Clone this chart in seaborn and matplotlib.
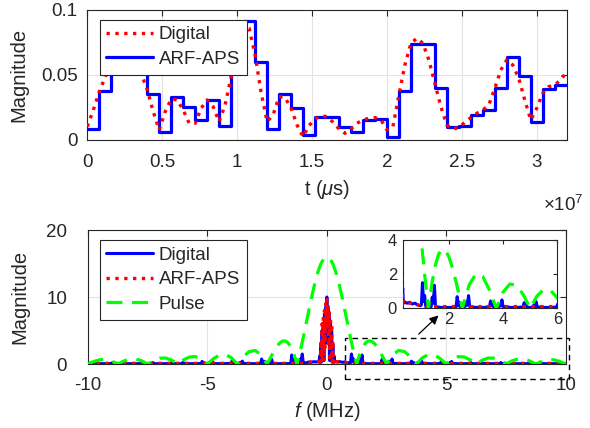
import numpy as np
import matplotlib
matplotlib.use("Agg")
import matplotlib.pyplot as plt
import seaborn as sns
from matplotlib.patches import Rectangle, FancyArrowPatch
from matplotlib.lines import Line2D

# ---------------- data: time domain ----------------
t_max = 3.2e7
digital_t = np.linspace(0, 3.2e7, 81)
digital_mag = [0.0103, 0.023, 0.0372, 0.0487, 0.057, 0.062, 0.065, 0.064, 0.060, 0.0513,
               0.0385, 0.0218, 0.0077, 0.0218, 0.0315, 0.0308, 0.023, 0.0128, 0.0128, 0.0244,
               0.0308, 0.0256, 0.0141, 0.0269, 0.0487, 0.0731, 0.0885, 0.086, 0.0654, 0.0367,
               0.0141, 0.0192, 0.0333, 0.0326, 0.0244, 0.0115, 0.0026, 0.011, 0.0162, 0.0185,
               0.018, 0.0136, 0.0085, 0.0051, 0.0085, 0.0128, 0.0154, 0.0167, 0.0172, 0.0154,
               0.0077, 0.0103, 0.0346, 0.0577, 0.0744, 0.0782, 0.0744, 0.0615, 0.0436, 0.0256,
               0.0115, 0.0085, 0.0095, 0.0136, 0.0172, 0.0205, 0.023, 0.0269, 0.0397, 0.0538,
               0.0615, 0.0577, 0.0474, 0.0308, 0.0154, 0.0244, 0.0359, 0.041, 0.0423, 0.0462,
               0.0525]
arf_steps = [0.0085, 0.0377, 0.057, 0.064, 0.061, 0.0351, 0.0064, 0.0333, 0.0256, 0.0154,
             0.0308, 0.011, 0.0641, 0.0915, 0.0597, 0.0085, 0.035, 0.0249, 0.0038, 0.0175,
             0.0175, 0.0097, 0.0064, 0.0154, 0.0162, 0.0021, 0.0377, 0.0738, 0.0736, 0.0397,
             0.0098, 0.011, 0.0192, 0.0228, 0.0397, 0.0636, 0.049, 0.0136, 0.039, 0.0423]
arf_t = np.linspace(0, 3.2e7, 41)

top_xticks = [0, 0.5e7, 1e7, 1.5e7, 2e7, 2.5e7, 3e7]
top_xticklabels = ["0", "0.5", "1", "1.5", "2", "2.5", "3"]
top_yticks = [0, 0.05, 0.1]
top_yticklabels = ["0", "0.05", "0.1"]

# ---------------- data: spectrum (positive half, magnitude is symmetric) ----------------
spec_f_pos = [0.0, 0.025, 0.05, 0.075, 0.1, 0.125, 0.15, 0.175, 0.2, 0.225, 0.25, 0.275, 0.3, 0.325, 0.35,
              0.45, 0.55, 0.65, 0.75, 0.85, 0.95,
              0.99, 1.03, 1.07, 1.11, 1.15, 1.19, 1.31, 1.35, 1.39, 1.43, 1.47, 1.51,
              1.7, 2.0, 2.2,
              2.27, 2.31, 2.35, 2.39, 2.43, 2.57, 2.61, 2.65, 2.69, 2.73, 2.77,
              3.0, 3.3,
              3.50, 3.54, 3.58, 3.62, 3.66, 3.84, 3.88, 3.92, 3.96, 4.00,
              4.3, 4.55,
              4.74, 4.78, 4.82, 4.86, 4.90, 5.10, 5.14, 5.18, 5.22, 5.26,
              5.5, 5.8,
              5.98, 6.02, 6.06, 6.44, 6.48, 6.52,
              6.8, 7.05,
              7.24, 7.28, 7.32, 7.68, 7.72, 7.76,
              8.0, 8.3,
              8.49, 8.53, 8.57, 8.93, 8.97, 9.01,
              9.3, 9.5,
              9.74, 9.78, 9.82, 10.0]
digital_spec_pos = [10.0, 6.0, 8.5, 3.0, 7.5, 0.5, 6.0, 1.0, 5.0, 0.3, 3.0, 0.3, 1.2, 0.3, 0.4,
                    0.3, 0.35, 0.25, 0.3, 0.2, 0.15,
                    0.2, 1.5, 0.4, 0.75, 0.1, 0.05, 0.05, 0.1, 0.65, 0.3, 1.35, 0.1,
                    0.05, 0.05, 0.05,
                    0.1, 0.68, 0.15, 0.35, 0.05, 0.05, 0.4, 0.15, 0.3, 0.74, 0.1,
                    0.05, 0.05,
                    0.1, 0.43, 0.15, 0.25, 0.05, 0.05, 0.25, 0.15, 0.49, 0.1,
                    0.05, 0.05,
                    0.08, 0.33, 0.1, 0.2, 0.05, 0.05, 0.2, 0.1, 0.39, 0.08,
                    0.05, 0.05,
                    0.08, 0.25, 0.05, 0.05, 0.3, 0.08,
                    0.05, 0.05,
                    0.05, 0.22, 0.05, 0.05, 0.25, 0.05,
                    0.05, 0.05,
                    0.05, 0.2, 0.05, 0.05, 0.22, 0.05,
                    0.05, 0.05,
                    0.05, 0.18, 0.05, 0.05]
arf_spec_pos = [9.6, 5.5, 9.0, 2.5, 8.0, 0.4, 7.0, 0.5, 6.0, 0.3, 3.5, 0.2, 0.8, 0.3, 0.35,
                0.35, 0.3, 0.3, 0.25, 0.2, 0.15,
                0.12, 0.1, 0.12, 0.1, 0.1, 0.1, 0.1, 0.1, 0.1, 0.1, 0.1, 0.1,
                0.1, 0.1, 0.1,
                0.1, 0.1, 0.1, 0.1, 0.1, 0.1, 0.1, 0.1, 0.1, 0.1, 0.1,
                0.1, 0.1,
                0.1, 0.1, 0.1, 0.1, 0.1, 0.1, 0.1, 0.1, 0.1, 0.1,
                0.1, 0.1,
                0.1, 0.1, 0.1, 0.1, 0.1, 0.1, 0.1, 0.1, 0.1, 0.1,
                0.1, 0.1,
                0.1, 0.1, 0.1, 0.1, 0.1, 0.1,
                0.1, 0.1,
                0.1, 0.1, 0.1, 0.1, 0.1, 0.1,
                0.1, 0.1,
                0.1, 0.1, 0.1, 0.1, 0.1, 0.1,
                0.1, 0.1,
                0.1, 0.1, 0.1, 0.1]
pulse_f_pos = [0, 0.125, 0.25, 0.375, 0.5, 0.625, 0.75, 0.875, 1.0, 1.125, 1.25, 1.375, 1.5, 1.625,
               1.75, 1.875, 2.0, 2.125, 2.25, 2.375, 2.5, 2.75, 3.0, 3.25, 3.5, 3.75, 4.0, 4.25,
               4.5, 4.75, 5.0, 5.25, 5.5, 5.75, 6.0, 6.25, 6.5, 6.75, 7.0, 7.25, 7.5, 7.75, 8.0,
               8.25, 8.5, 8.75, 9.0, 9.25, 9.5, 9.75, 10.0]
pulse_pos = [16.0, 15.74, 14.97, 13.73, 12.11, 10.19, 8.07, 5.89, 3.74, 1.75, 0.0, 1.43, 2.49, 3.17,
             3.46, 3.40, 3.03, 2.42, 1.66, 0.83, 0.0, 1.36, 2.02, 1.86, 1.07, 0.0, 0.94, 1.42,
             1.35, 0.79, 0.0, 0.71, 1.10, 1.05, 0.62, 0.0, 0.58, 0.90, 0.87, 0.52, 0.0, 0.48,
             0.76, 0.73, 0.44, 0.0, 0.42, 0.65, 0.64, 0.38, 0.0]

bot_xticks = [-10, -5, 0, 5, 10]
bot_xticklabels = ["-10", "-5", "0", "5", "10"]
bot_yticks = [0, 10, 20]
inset_xticks = [2, 4, 6]
inset_yticks = [0, 2, 4]


def mirror(f, v):
    f = np.asarray(f, float)
    v = np.asarray(v, float)
    return np.concatenate([-f[::-1], f[1:]]), np.concatenate([v[::-1], v[1:]])


spec_f, digital_spec = mirror(spec_f_pos, digital_spec_pos)
_, arf_spec = mirror(spec_f_pos, arf_spec_pos)
pulse_f, pulse_spec = mirror(pulse_f_pos, pulse_pos)

# ---------------- style ----------------
sns.set_style("white")
plt.rcParams["font.family"] = ["Liberation Sans", "DejaVu Sans"]
plt.rcParams["mathtext.fontset"] = "custom"
plt.rcParams["mathtext.rm"] = "Liberation Sans"
plt.rcParams["mathtext.it"] = "Liberation Sans:italic"

AX_COL = "#262626"
GRID_COL = "#e3e3e3"
BLUE = "#0000ff"
RED = "#ff0000"
GREEN = "#00ff00"
FS = 13.5
LFS = 14.5
DASH = (0, (5, 3))


def style_axes(ax, grid=True, xpad=10, ypad=6):
    for s in ax.spines.values():
        s.set_color(AX_COL)
        s.set_linewidth(0.8)
    ax.tick_params(direction="in", top=True, right=True, length=4, width=0.8,
                   colors=AX_COL, labelsize=FS)
    ax.tick_params(axis="x", pad=xpad)
    ax.tick_params(axis="y", pad=ypad)
    if grid:
        ax.grid(True, color=GRID_COL, lw=0.8)
    ax.set_axisbelow(True)


fig = plt.figure(figsize=(5.9, 4.28), dpi=100)

# ---------------- top axes ----------------
ax1 = fig.add_axes([0.148, 0.673, 0.8125, 0.3037])
arf_plot_y = list(arf_steps) + [arf_steps[-1]]
sns.lineplot(x=arf_t, y=arf_plot_y, ax=ax1, color=BLUE, lw=2.3, drawstyle="steps-post",
             estimator=None, sort=False, zorder=3)
sns.lineplot(x=digital_t, y=digital_mag, ax=ax1, color=RED, lw=2.4, linestyle=":",
             estimator=None, sort=False, zorder=4)
ax1.set_xlim(0, t_max)
ax1.set_ylim(0, 0.1)
ax1.set_xticks(top_xticks)
ax1.set_xticklabels(top_xticklabels)
ax1.set_yticks(top_yticks)
ax1.set_yticklabels(top_yticklabels)
style_axes(ax1, xpad=10, ypad=7)
ax1.set_xlabel(r"t ($\mu$s)", fontsize=LFS, color=AX_COL, labelpad=5)
ax1.set_ylabel("Magnitude", fontsize=LFS, color=AX_COL)
ax1.yaxis.set_label_coords(-0.122, 0.5)
h1 = [Line2D([], [], color=RED, lw=2.4, linestyle=":"),
      Line2D([], [], color=BLUE, lw=2.3)]
leg1 = ax1.legend(h1, ["Digital", "ARF-APS"], loc="upper left", bbox_to_anchor=(0.026, 0.925),
                  borderaxespad=0, fancybox=False, edgecolor=AX_COL, framealpha=1,
                  fontsize=FS, handlelength=2.5, handletextpad=0.3, borderpad=0.35,
                  labelspacing=0.4)
leg1.get_frame().set_linewidth(0.8)
fig.text(0.92, 0.522, r"$\times10^{7}$", fontsize=FS, color=AX_COL, ha="left", va="center")

# ---------------- bottom axes ----------------
ax2 = fig.add_axes([0.149, 0.1495, 0.81, 0.313])


def draw_spectrum(ax):
    sns.lineplot(x=spec_f, y=digital_spec, ax=ax, color=BLUE, lw=2.2,
                 estimator=None, sort=False, zorder=3)
    sns.lineplot(x=spec_f, y=arf_spec, ax=ax, color=RED, lw=2.4, linestyle=":",
                 estimator=None, sort=False, zorder=4)
    sns.lineplot(x=pulse_f, y=pulse_spec, ax=ax, color=GREEN, lw=2.3,
                 linestyle=DASH, estimator=None, sort=False, zorder=5)


draw_spectrum(ax2)
ax2.set_xlim(-10, 10)
ax2.set_ylim(0, 20)
ax2.set_xticks(bot_xticks)
ax2.set_xticklabels(bot_xticklabels)
ax2.set_yticks(bot_yticks)
style_axes(ax2, xpad=9, ypad=15)
ax2.set_xlabel(r"$f$ (MHz)", fontsize=LFS, color=AX_COL, labelpad=5)
ax2.set_ylabel("Magnitude", fontsize=LFS, color=AX_COL)
ax2.yaxis.set_label_coords(-0.123, 0.5)
h2 = [Line2D([], [], color=BLUE, lw=2.2),
      Line2D([], [], color=RED, lw=2.4, linestyle=":"),
      Line2D([], [], color=GREEN, lw=2.3, linestyle=DASH)]
leg2 = ax2.legend(h2, ["Digital", "ARF-APS", "Pulse"], loc="upper left",
                  bbox_to_anchor=(0.025, 0.925), borderaxespad=0, fancybox=False,
                  edgecolor=AX_COL, framealpha=1, fontsize=FS, handlelength=2.5,
                  handletextpad=0.3, borderpad=0.35, labelspacing=0.4)
leg2.get_frame().set_linewidth(0.8)

rect = Rectangle((0.75, -2.3), 9.4, 6.2, fill=False, edgecolor="k", lw=1.0,
                 linestyle=(0, (4, 3)), clip_on=False, zorder=6)
ax2.add_patch(rect)

# ---------------- inset ----------------
axi = fig.add_axes([0.6825, 0.2797, 0.262, 0.1596])
draw_spectrum(axi)
axi.set_xlim(0.3, 6)
axi.set_ylim(0, 4)
axi.set_xticks(inset_xticks)
axi.set_yticks(inset_yticks)
style_axes(axi, grid=False, xpad=3, ypad=4)
axi.tick_params(labelsize=FS - 1.5, length=3)
axi.set_facecolor("white")

fig.add_artist(FancyArrowPatch(
    (0.7063, 0.2150), (0.7466, 0.2675), transform=fig.transFigure,
    arrowstyle="-|>", mutation_scale=13, color="k", lw=0.9))

fig.savefig("out.png", dpi=100)
